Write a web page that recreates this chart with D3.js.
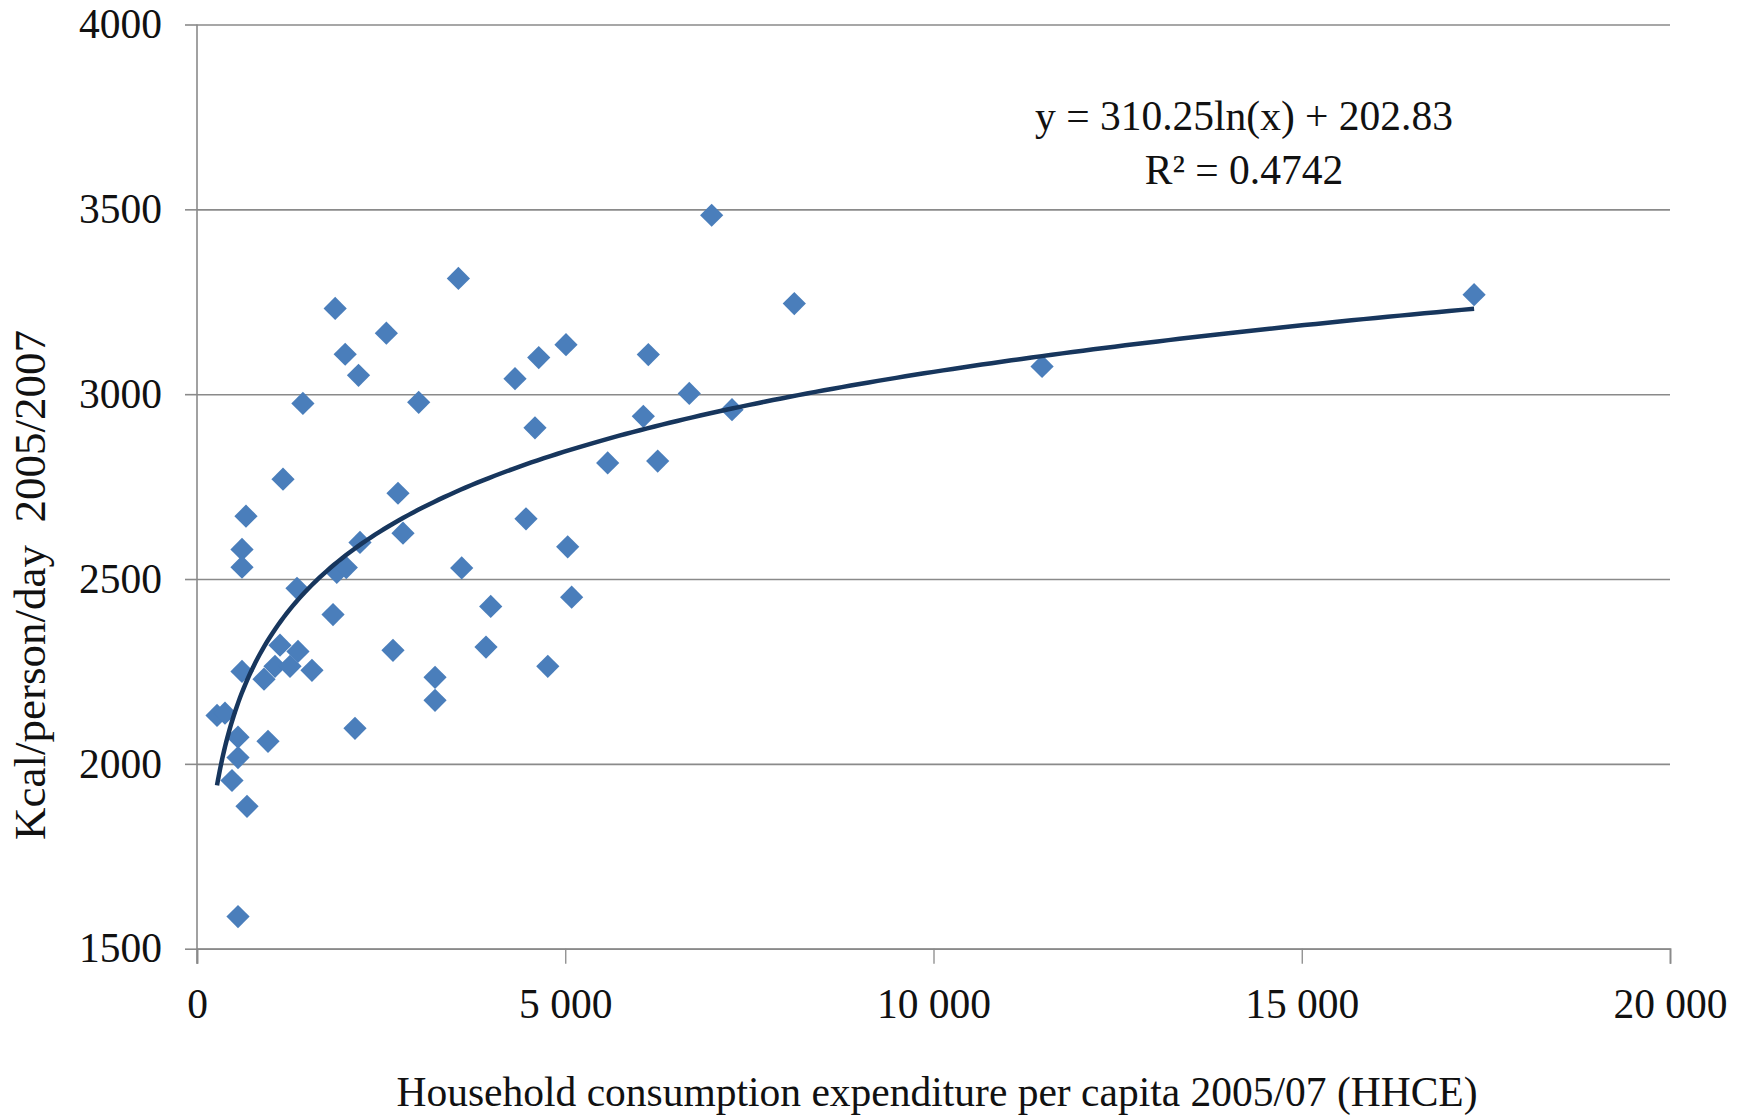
<!DOCTYPE html>
<html>
<head>
<meta charset="utf-8">
<script src="https://cdn.jsdelivr.net/npm/d3@7"></script>
<style>
  html, body { margin: 0; padding: 0; background: #fff; }
  svg { display: block; }
  text { font-family: "Liberation Serif", "Times New Roman", serif; fill: #111; }
</style>
</head>
<body>
<svg id="chart" width="1746" height="1117"></svg>
<script>
// Household consumption expenditure per capita (HHCE), 2005/07
const hhce = [272, 380, 475, 557, 557, 679, 557, 611, 611, 665,
              611, 910, 1059, 1127, 1263, 1371, 1561, 964, 1168, 1438,
              1358, 1876, 2012, 2193, 1847, 1898, 2027, 2213, 2145, 2571,
              3010, 2729, 2797, 2661, 3232, 3232, 3549, 3594, 3988, 3924,
              4318, 4467, 4589, 4640, 4763, 5010, 5033, 5087, 5576, 6060,
              6128, 6255, 6684, 6988, 7264, 8110, 11474, 17340];
// Kcal/person/day 2005/2007
const kcal = [2131, 2137, 1955, 2072, 2017, 1885, 1587, 2580, 2532, 2670,
              2250, 2229, 2264, 2321, 2264, 2304, 2253, 2061, 2770, 2975,
              2475, 3232, 3108, 3051, 2404, 2518, 2531, 2599, 2096, 3165,
              2978, 2732, 2624, 2307, 2234, 2172, 3313, 2530, 2426, 2316,
              3042, 2663, 2909, 3099, 2264, 3134, 2587, 2451, 2814, 2940,
              3107, 2819, 3002, 3484, 2958, 3245, 3075, 3269];
// Logarithmic trendline shown on chart: y = 310.25 ln(x) + 202.83
const trendA = 310.25;
const trendB = 202.83;
const trendLabel = ["y = 310.25ln(x) + 202.83", "R\u00b2 = 0.4742"];
const xTicks = [0, 5000, 10000, 15000, 20000];
const yTicks = [1500, 2000, 2500, 3000, 3500, 4000];
const xTitle = "Household consumption expenditure per capita 2005/07 (HHCE)";
const yTitle = "Kcal/person/day\u00a0 2005/2007";

const svg = d3.select("#chart");
const x = d3.scaleLinear().domain([0, 20000]).range([197, 1670]);
const y = d3.scaleLinear().domain([1500, 4000]).range([948.7, 24.5]);
const gridColor = "#8a8a8a";
const fontSize = 41.5;

// Horizontal gridlines + y axis ticks
const yAxis = d3.axisLeft(y).tickValues(yTicks).tickSize(12).tickPadding(23).tickFormat(d3.format("d"));
const gy = svg.append("g").attr("transform", `translate(${x(0)},0)`).call(yAxis);
gy.select(".domain").remove();
gy.selectAll(".tick line").attr("stroke", gridColor).attr("stroke-width", 1.6);
gy.selectAll(".tick text").attr("font-size", fontSize).attr("font-family", "Liberation Serif").attr("fill", "#111");
gy.selectAll(".tick").append("line")
  .attr("x1", 0).attr("x2", x(20000) - x(0))
  .attr("stroke", gridColor).attr("stroke-width", 1.6);

// X axis
const fmt = d => d === 0 ? "0" : d3.format(",")(d).replace(/,/g, " ");
const xAxis = d3.axisBottom(x).tickValues(xTicks).tickSize(15).tickPadding(25).tickFormat(fmt);
const gx = svg.append("g").attr("transform", `translate(0,${y(1500)})`).call(xAxis);
gx.select(".domain").attr("stroke", gridColor).attr("stroke-width", 1.8);
gx.selectAll(".tick line").attr("stroke", gridColor).attr("stroke-width", 1.3);
gx.selectAll(".tick text").attr("font-size", fontSize).attr("font-family", "Liberation Serif").attr("fill", "#111")
  .style("white-space", "pre");

// Y axis line
svg.append("line")
  .attr("x1", x(0)).attr("x2", x(0))
  .attr("y1", y(4000)).attr("y2", y(1500) + 15)
  .attr("stroke", gridColor).attr("stroke-width", 1.6);

// Points (diamonds)
const pts = hhce.map((v, i) => ({x: v, y: kcal[i]}));
const diamond = d3.symbol().type(d3.symbolSquare).size(270);
svg.append("g").selectAll("path").data(pts).join("path")
  .attr("d", diamond)
  .attr("transform", d => `translate(${x(d.x)},${y(d.y)}) rotate(45)`)
  .attr("fill", "#4A7EBB");

// Trendline
const xMin = d3.min(hhce), xMax = d3.max(hhce);
const tx = d3.range(0, 201).map(i => xMin + (xMax - xMin) * Math.pow(i / 200, 2));
const line = d3.line().x(d => x(d)).y(d => y(trendA * Math.log(d) + trendB)).curve(d3.curveLinear);
svg.append("path").datum(tx)
  .attr("d", line)
  .attr("fill", "none")
  .attr("stroke", "#17365D")
  .attr("stroke-width", 4.5)
  .attr("stroke-linecap", "butt");

// Trendline label
svg.append("g").selectAll("text").data(trendLabel).join("text")
  .attr("x", 1244).attr("y", (d, i) => 130 + i * 54)
  .attr("text-anchor", "middle")
  .attr("font-size", fontSize)
  .text(d => d);

// Axis titles
svg.append("text")
  .attr("x", 937).attr("y", 1106)
  .attr("text-anchor", "middle")
  .attr("font-size", fontSize)
  .text(xTitle);

svg.append("text")
  .attr("transform", "translate(45,585) rotate(-90)")
  .attr("text-anchor", "middle")
  .attr("font-size", 45)
  .text(yTitle);
</script>
</body>
</html>
